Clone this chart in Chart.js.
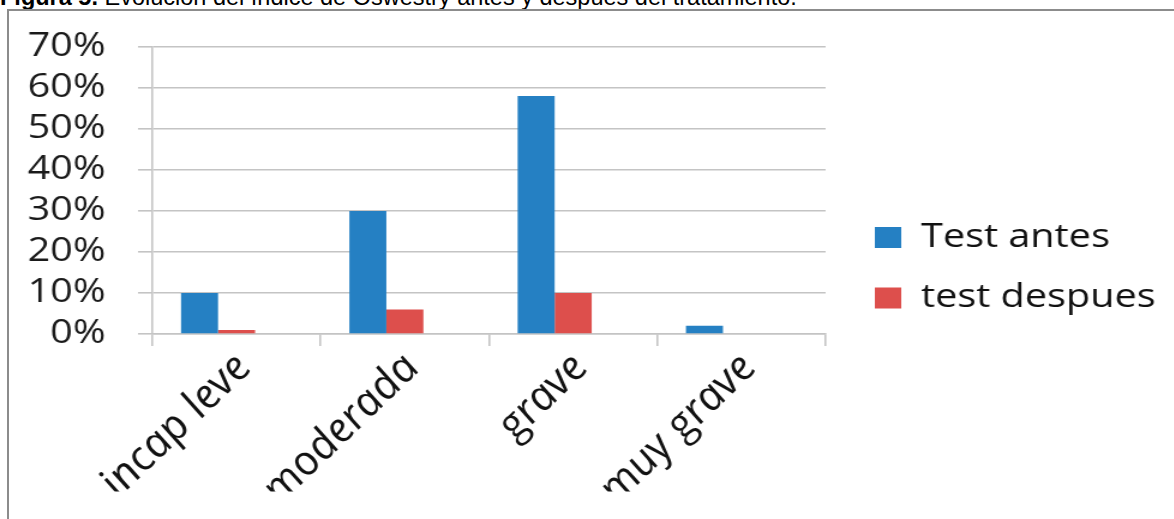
<!DOCTYPE html>
<html lang="es">
<head>
<meta charset="utf-8">
<script src="https://cdn.jsdelivr.net/npm/chart.js@4.4.1/dist/chart.umd.min.js"></script>
<style>
  html, body { margin: 0; padding: 0; background: #fff; overflow: hidden; }
  body { width: 1174px; height: 519px; position: relative; }
  #caption {
    position: absolute; left: 0; top: -14px;
    font: 23.5px/23.5px "Liberation Sans", Arial, sans-serif;
    color: #000; white-space: nowrap;
  }
  #frame {
    position: absolute; left: 7px; top: 9px; width: 1300px; height: 700px;
    border-left: 2px solid #8c8c8c; border-top: 2px solid #8c8c8c;
  }
  /* the plot is laid out on a narrower canvas and widened on screen */
  #plot {
    position: absolute; left: 0; top: 0; width: 978px; height: 519px;
    transform: scaleX(1.2); transform-origin: 0 0;
  }
</style>
</head>
<body>
<div id="caption"><b>Figura 5.</b> Evolución del índice de Oswestry antes y después del tratamiento.</div>
<div id="frame"></div>
<div id="plot"><canvas id="c"></canvas></div>
<script>
// Oswestry disability categories and share of patients (%)
const categories  = ['incap leve', 'moderada', 'grave', 'muy grave'];
const testAntes   = [10, 30, 58, 2];
const testDespues = [1, 6, 10, 0];
const yTickValues = [0, 10, 20, 30, 40, 50, 60, 70];

const gridColor = '#c4c4c4';
const fontFamily = '"Open Sans", "DejaVu Sans", sans-serif';

new Chart(document.getElementById('c'), {
  type: 'bar',
  data: {
    labels: categories,
    datasets: [
      { label: 'Test antes',   data: testAntes,   backgroundColor: '#2580c3', borderWidth: 0 },
      { label: 'test despues', data: testDespues, backgroundColor: '#dd4f4c', borderWidth: 0 },
      // empty third slot of each group, as in the original spreadsheet chart
      { label: 'spacer', data: categories.map(() => null), backgroundColor: 'rgba(0,0,0,0)', borderWidth: 0 }
    ]
  },
  options: {
    responsive: true,
    maintainAspectRatio: false,
    animation: false,
    layout: { padding: { top: 44, left: 0, right: 5, bottom: 27.5 } },
    datasets: { bar: { categoryPercentage: 0.66, barPercentage: 1 } },
    plugins: {
      tooltip: { enabled: false },
      legend: {
        position: 'right',
        align: 'center',
        maxWidth: 400,
        labels: {
          boxWidth: 22,
          boxHeight: 21,
          padding: 27.5,
          color: '#111',
          font: { family: fontFamily, size: 33 },
          filter: item => item.datasetIndex < 2
        }
      }
    },
    scales: {
      x: {
        afterFit: s => { s.height = 157.5; },
        grid: { drawOnChartArea: false, drawTicks: true, tickLength: 12, color: gridColor, lineWidth: 1.6, offset: true },
        border: { color: gridColor, width: 1.6 },
        ticks: {
          autoSkip: false, minRotation: 49, maxRotation: 49, padding: 0, labelOffset: 6,
          color: '#111',
          font: { family: fontFamily, size: 39, style: 'italic' }
        }
      },
      y: {
        min: 0, max: 70,
        afterFit: s => { s.width = 127; },
        afterBuildTicks: s => { s.ticks = yTickValues.map(v => ({ value: v })); },
        grid: { color: gridColor, lineWidth: 1.6, tickLength: 12, drawTicks: true },
        border: { color: gridColor, width: 1.6 },
        ticks: {
          autoSkip: false, padding: 27, color: '#1a1a1a',
          font: { family: fontFamily, size: 33 },
          callback: v => v + '%'
        }
      },
      gap: {
        position: 'right',
        display: true,
        afterFit: s => { s.width = 13.5; },
        grid: { display: false },
        border: { display: false },
        ticks: { display: false }
      }
    }
  }
});
</script>
</body>
</html>
